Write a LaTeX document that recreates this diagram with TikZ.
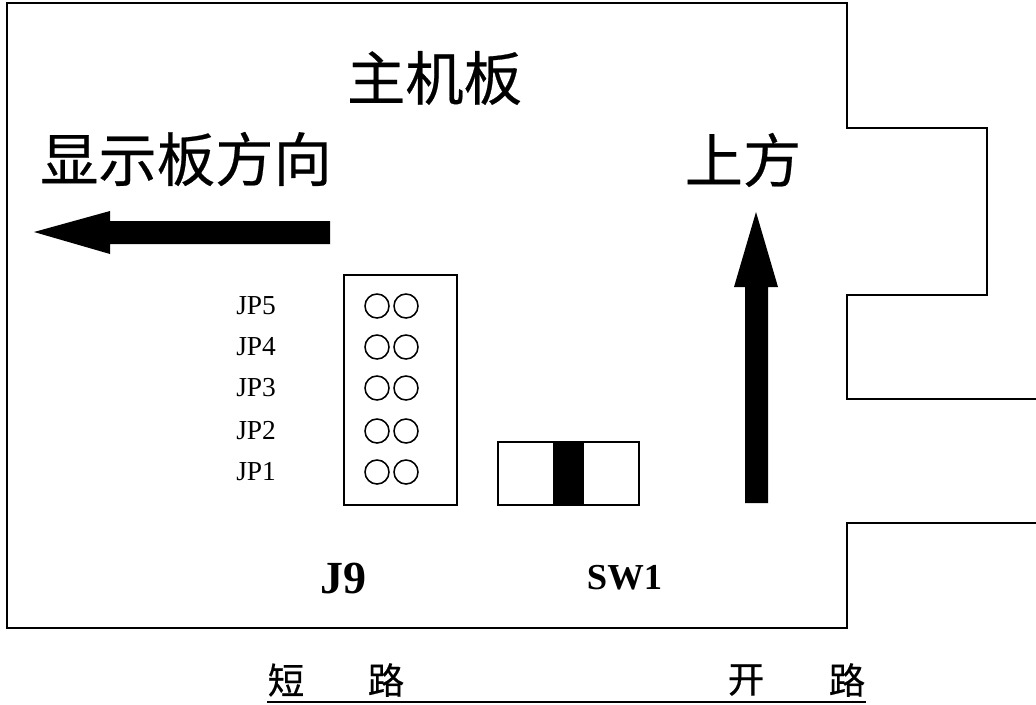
\documentclass[tikz,border=0pt]{standalone}
\usepackage{fontspec}
\setmainfont{Liberation Serif}
\newfontfamily\cjk[FakeBold=0.4]{Noto Sans CJK SC}
\begin{document}
\begin{tikzpicture}[
    x=0.025cm, y=-0.025cm,
    edge/.style={line width=1.4pt, line cap=rect},
    box/.style={rectangle, draw, line width=1.2pt, inner sep=0pt, anchor=north west},
    pin/.style={circle, draw, line width=1.1pt, inner sep=0pt, minimum size=0.6cm},
    title/.style={inner sep=0pt, font=\cjk\fontsize{41.5}{43}\selectfont},
    foot/.style={inner sep=0pt, font=\cjk\fontsize{26}{28}\selectfont},
    jplabel/.style={inner sep=0pt, anchor=west, font=\fontsize{19.5}{21}\selectfont}
]
\useasboundingbox (0, 0) rectangle (1036, 704);

% Board outline
\draw[edge] (847, 523) -- (847, 628) -- (720, 628);
\draw[edge, line width=0.8pt] (568, 628) -- (720, 628);
\draw[edge] (568, 628) -- (7, 628) -- (7, 3) -- (847, 3) -- (847, 128) -- (987, 128) -- (987, 295) -- (847, 295) -- (847, 399) -- (1036, 399);
\draw[edge] (847, 523) -- (1036, 523);
\draw[line width=2pt] (847, 50) -- (847, 128);

% Headings
\node[title] (board) at (434.5, 78) {主机板};
\node[title] (display) at (186, 159) {显示板方向};
\node[title] (up) at (743, 160) {上方};

% Thick arrows
\fill (34, 232) -- (110, 211) -- (110, 221) -- (330, 221) -- (330, 244) -- (110, 244) -- (110, 254) -- cycle;
\fill (756, 212) -- (778, 287) -- (768, 287) -- (768, 503) -- (745, 503) -- (745, 287) -- (734, 287) -- cycle;

% Jumper block
\node[box, minimum width=2.825cm, minimum height=5.75cm] (j9) at (343, 274) {};
\foreach \n/\ypos in {5/306, 4/347, 3/388, 2/431, 1/472} {
    \node[jplabel] (jp\n) at (236, \ypos) {JP\n};
    \node[pin] (pa\n) at (377, \ypos) {};
    \node[pin] (pb\n) at (406, \ypos) {};
}
\node[inner sep=0pt, font=\bfseries\fontsize{32.7}{34}\selectfont] (j9label) at (343, 578) {J9};

% Switch
\node[box, minimum width=3.525cm, minimum height=1.575cm] (sw1) at (497, 441) {};
\node[box, fill=black, minimum width=0.725cm, minimum height=1.575cm] (slider) at (553, 441) {};
\node[inner sep=0pt, font=\bfseries\fontsize{26}{28}\selectfont] (sw1label) at (624.5, 578) {SW1};

% Legend
\node[foot] (short1) at (286, 680) {短};
\node[foot] (short2) at (386, 680) {路};
\node[foot] (open1) at (746, 680) {开};
\node[foot] (open2) at (847, 680) {路};
\draw[line width=1.6pt] (short1.west |- 0, 702) -- (open2.east |- 0, 702);

\end{tikzpicture}
\end{document}
